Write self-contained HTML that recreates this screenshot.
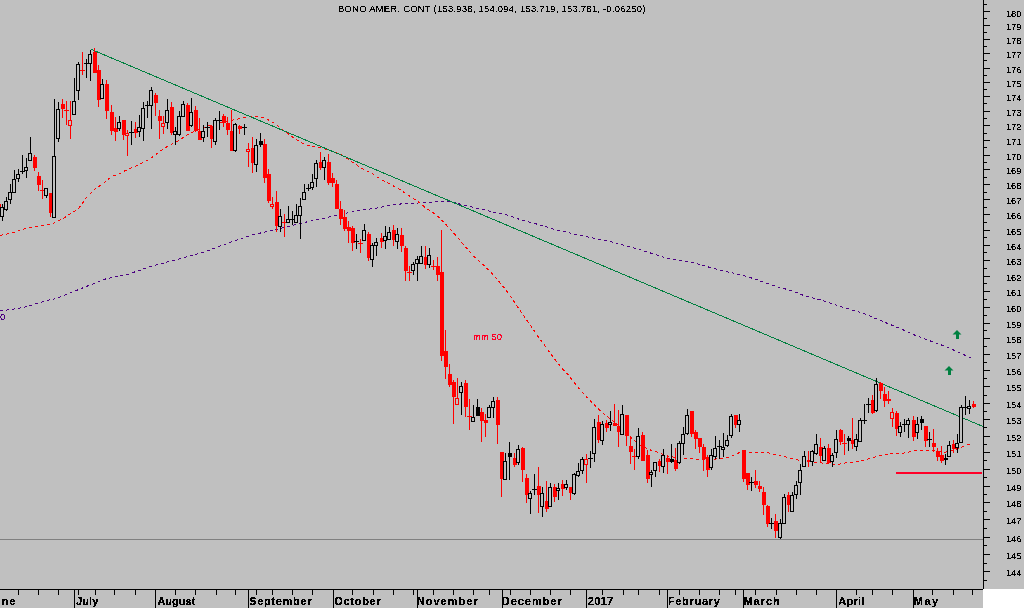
<!DOCTYPE html>
<html><head><meta charset="utf-8"><style>
html,body{margin:0;padding:0;width:1024px;height:608px;overflow:hidden;background:#c0c0c0;}
svg{display:block;}
text{font-family:"Liberation Sans",sans-serif;}
.yl{font-size:9.5px;text-anchor:end;fill:#000;}
.ml{font-size:11px;font-weight:bold;fill:#000;}
.mm{font-size:9.5px;fill:#ff0028;}
.pz{font-size:9.5px;fill:#4b0082;}
.tt{font-size:9.5px;letter-spacing:0.21px;fill:#000;}
</style></head><body>
<svg width="1024" height="608" viewBox="0 0 1024 608" shape-rendering="crispEdges">
<defs><filter id="crisp" x="0" y="0" width="100%" height="100%" color-interpolation-filters="sRGB"><feComponentTransfer><feFuncA type="discrete" tableValues="0 0 1 1 1"/></feComponentTransfer></filter><filter id="crisp2" x="0" y="0" width="100%" height="100%" color-interpolation-filters="sRGB"><feComponentTransfer><feFuncA type="discrete" tableValues="0 0 1 1 1"/></feComponentTransfer></filter><filter id="crisp3" x="0" y="0" width="100%" height="100%" color-interpolation-filters="sRGB"><feComponentTransfer><feFuncA type="discrete" tableValues="0 1 1"/></feComponentTransfer></filter></defs>
<rect x="0" y="0" width="1024" height="608" fill="#c0c0c0"/>
<rect x="0" y="539" width="983" height="1" fill="#808080"/>
<polyline points="0,311 12,309.4 22.8,307.6 36,303.8 47,300.5 55.8,298.7 81.2,288.5 106.6,278.6 126.9,274.6 152.3,266 177.7,259.3 203,252.5 228.4,243 253.8,234.5 273.9,230 302.6,222.8 322.6,218.7 335.8,215.4 347.3,212.9 362,210.1 378.5,207.8 390.4,205 401.6,203.9 418,203 428,202.3 441.4,201.6 451.3,201.9 466.1,205.7 480.9,209 494,212.3 505,214.4 520,219.5 538.7,224.6 555,229.5 583,236 610,241.5 638,249 666,258 693,262.7 721,270.5 742.4,275.1 754.6,279 766.9,283.2 779,287.3 791.3,290.5 803.5,295.4 815.7,298.6 827.9,302.2 840,306.4 852.3,310 864.5,313.7 876.7,319 889,324 901,328.8 913.3,334.5 925.5,339.3 937.8,343.5 950,348.4 962.2,354 973.2,358.9" fill="none" stroke="#4b0082" stroke-width="1" stroke-dasharray="3 3"/>
<polyline points="0,235.4 5,234.5 11.5,232.9 17.3,231.2 23.8,229.2 29.2,227.5 35.4,226.3 41.1,225.9 47.7,224.3 53.5,223.4 59.2,220.6 65,217.3 70.7,213.6 78.3,208.8 86.7,197.3 95.1,189 103.5,183.2 111.8,176.5 120.2,173.5 123.3,171.5 136.4,165.8 149.6,159.2 159.5,151.8 169.3,145.2 179.2,140.3 189,133.7 200.6,128.8 212,124.7 225.3,121.4 235,119.7 245,117.3 254.9,116.1 264.7,118 273.3,122.5 281.5,129 293,137.3 302.9,143.8 312.8,146.6 322.6,148.3 332.5,151.3 342.4,155.4 352.2,162 362,168.5 372,173.5 381.8,180 391.7,185 401.6,190.7 411.4,197.3 421.3,203.9 425,207.3 434.9,213.9 441.4,219.7 449.7,228.7 457.9,237.8 466.1,247.6 474.3,256.7 482.6,264.1 491.6,273 501.5,284.6 506.4,290.6 522.9,314.4 539.3,338.3 555.8,360.5 562.4,368.7 567.9,374.5 577.1,386.3 582.4,392.2 588.3,398.8 593.6,404 598.8,409.3 604.7,414.6 610.7,419.2 621.8,428.4 632.4,439 639.2,444.6 648.7,449.4 657,452.1 667.9,456.3 681.6,458.3 695.2,459 708.9,459.7 722.6,458.3 729.4,457 736.3,454.2 740.4,452.1 751.5,452.3 767.6,452.7 776.4,455.2 786.6,457.1 793.9,459.3 801.2,460.7 815.9,462.2 830.5,464 837.8,464.4 845.2,463 855.4,462.2 861.3,460.7 870,458.6 878.8,455.6 889,454.2 896.4,453.1 903.3,453.2 910.3,451.8 916,450.4 927.2,450.4 935.6,451 945.5,452.2 952.5,450.4 962.4,446.9 971,443.4" fill="none" stroke="#ff0000" stroke-width="1" stroke-dasharray="3 3"/>
<line x1="91.5" y1="49.5" x2="983" y2="426.5" stroke="#008040" stroke-width="1"/>
<rect x="-2" y="203" width="1" height="10" fill="#ff0000"/><rect x="-3" y="204" width="4" height="5" fill="#ff0000"/><rect x="2" y="204" width="1" height="17" fill="#000000"/><rect x="0" y="207" width="4" height="10" fill="#000000"/><rect x="1" y="208" width="2" height="8" fill="#c0c0c0"/><rect x="6" y="197" width="1" height="14" fill="#000000"/><rect x="4" y="201" width="4" height="9" fill="#000000"/><rect x="5" y="202" width="2" height="7" fill="#c0c0c0"/><rect x="10" y="184" width="1" height="20" fill="#000000"/><rect x="8" y="192" width="4" height="8" fill="#000000"/><rect x="9" y="193" width="2" height="6" fill="#c0c0c0"/><rect x="14" y="170" width="1" height="23" fill="#000000"/><rect x="12" y="179" width="4" height="14" fill="#000000"/><rect x="13" y="180" width="2" height="12" fill="#c0c0c0"/><rect x="18" y="169" width="1" height="13" fill="#000000"/><rect x="16" y="174" width="4" height="5" fill="#000000"/><rect x="17" y="175" width="2" height="3" fill="#c0c0c0"/><rect x="22" y="155" width="1" height="19" fill="#000000"/><rect x="20" y="171" width="5" height="1" fill="#000000"/><rect x="26" y="158" width="1" height="20" fill="#000000"/><rect x="24" y="167" width="4" height="4" fill="#000000"/><rect x="25" y="168" width="2" height="2" fill="#c0c0c0"/><rect x="30" y="137" width="1" height="24" fill="#000000"/><rect x="28" y="153" width="4" height="8" fill="#000000"/><rect x="29" y="154" width="2" height="6" fill="#c0c0c0"/><rect x="34" y="155" width="1" height="16" fill="#ff0000"/><rect x="33" y="157" width="4" height="11" fill="#ff0000"/><rect x="38" y="172" width="1" height="19" fill="#ff0000"/><rect x="37" y="176" width="4" height="9" fill="#ff0000"/><rect x="42" y="180" width="1" height="19" fill="#ff0000"/><rect x="40" y="190" width="5" height="1" fill="#ff0000"/><rect x="46" y="188" width="1" height="10" fill="#000000"/><rect x="44" y="188" width="4" height="8" fill="#000000"/><rect x="45" y="189" width="2" height="6" fill="#c0c0c0"/><rect x="50" y="193" width="1" height="24" fill="#ff0000"/><rect x="49" y="193" width="4" height="20" fill="#ff0000"/><rect x="54" y="99" width="1" height="119" fill="#000000"/><rect x="52" y="156" width="4" height="62" fill="#000000"/><rect x="53" y="157" width="2" height="60" fill="#c0c0c0"/><rect x="58" y="102" width="1" height="40" fill="#000000"/><rect x="56" y="109" width="4" height="30" fill="#000000"/><rect x="57" y="110" width="2" height="28" fill="#c0c0c0"/><rect x="62" y="99" width="1" height="19" fill="#ff0000"/><rect x="61" y="104" width="4" height="5" fill="#ff0000"/><rect x="66" y="101" width="1" height="24" fill="#ff0000"/><rect x="64" y="110" width="5" height="1" fill="#ff0000"/><rect x="70" y="101" width="1" height="38" fill="#ff0000"/><rect x="68" y="120" width="4" height="6" fill="#ff0000"/><rect x="69" y="121" width="2" height="4" fill="#c0c0c0"/><rect x="74" y="78" width="1" height="37" fill="#000000"/><rect x="72" y="101" width="4" height="14" fill="#000000"/><rect x="73" y="102" width="2" height="12" fill="#c0c0c0"/><rect x="78" y="62" width="1" height="38" fill="#000000"/><rect x="76" y="64" width="4" height="27" fill="#000000"/><rect x="77" y="65" width="2" height="25" fill="#c0c0c0"/><rect x="82" y="52" width="1" height="23" fill="#ff0000"/><rect x="80" y="70" width="5" height="1" fill="#ff0000"/><rect x="86" y="59" width="1" height="19" fill="#000000"/><rect x="84" y="63" width="5" height="1" fill="#000000"/><rect x="90" y="50" width="1" height="31" fill="#000000"/><rect x="88" y="54" width="4" height="10" fill="#000000"/><rect x="89" y="55" width="2" height="8" fill="#c0c0c0"/><rect x="94" y="48" width="1" height="25" fill="#ff0000"/><rect x="93" y="52" width="4" height="21" fill="#ff0000"/><rect x="98" y="65" width="1" height="42" fill="#ff0000"/><rect x="97" y="70" width="4" height="30" fill="#ff0000"/><rect x="102" y="79" width="1" height="20" fill="#000000"/><rect x="100" y="84" width="4" height="15" fill="#000000"/><rect x="101" y="85" width="2" height="13" fill="#c0c0c0"/><rect x="106" y="80" width="1" height="39" fill="#ff0000"/><rect x="105" y="84" width="4" height="27" fill="#ff0000"/><rect x="111" y="105" width="1" height="30" fill="#ff0000"/><rect x="110" y="112" width="4" height="19" fill="#ff0000"/><rect x="115" y="117" width="1" height="24" fill="#ff0000"/><rect x="114" y="128" width="4" height="4" fill="#ff0000"/><rect x="119" y="116" width="1" height="15" fill="#000000"/><rect x="117" y="122" width="4" height="7" fill="#000000"/><rect x="118" y="123" width="2" height="5" fill="#c0c0c0"/><rect x="123" y="120" width="1" height="20" fill="#ff0000"/><rect x="122" y="120" width="4" height="15" fill="#ff0000"/><rect x="127" y="130" width="1" height="26" fill="#ff0000"/><rect x="125" y="133" width="4" height="3" fill="#ff0000"/><rect x="126" y="134" width="2" height="1" fill="#c0c0c0"/><rect x="131" y="121" width="1" height="24" fill="#000000"/><rect x="129" y="132" width="5" height="1" fill="#000000"/><rect x="135" y="122" width="1" height="16" fill="#ff0000"/><rect x="134" y="129" width="4" height="4" fill="#ff0000"/><rect x="139" y="115" width="1" height="22" fill="#000000"/><rect x="137" y="127" width="4" height="5" fill="#000000"/><rect x="138" y="128" width="2" height="3" fill="#c0c0c0"/><rect x="143" y="102" width="1" height="39" fill="#000000"/><rect x="141" y="108" width="4" height="21" fill="#000000"/><rect x="142" y="109" width="2" height="19" fill="#c0c0c0"/><rect x="147" y="101" width="1" height="17" fill="#000000"/><rect x="145" y="105" width="5" height="1" fill="#000000"/><rect x="151" y="87" width="1" height="42" fill="#000000"/><rect x="149" y="90" width="4" height="16" fill="#000000"/><rect x="150" y="91" width="2" height="14" fill="#c0c0c0"/><rect x="155" y="93" width="1" height="23" fill="#ff0000"/><rect x="154" y="95" width="4" height="8" fill="#ff0000"/><rect x="159" y="110" width="1" height="29" fill="#ff0000"/><rect x="158" y="116" width="4" height="5" fill="#ff0000"/><rect x="163" y="116" width="1" height="18" fill="#ff0000"/><rect x="161" y="123" width="4" height="4" fill="#ff0000"/><rect x="162" y="124" width="2" height="2" fill="#c0c0c0"/><rect x="167" y="99" width="1" height="30" fill="#000000"/><rect x="165" y="110" width="4" height="13" fill="#000000"/><rect x="166" y="111" width="2" height="11" fill="#c0c0c0"/><rect x="171" y="102" width="1" height="33" fill="#ff0000"/><rect x="170" y="107" width="4" height="26" fill="#ff0000"/><rect x="175" y="127" width="1" height="18" fill="#000000"/><rect x="173" y="131" width="4" height="4" fill="#000000"/><rect x="174" y="132" width="2" height="2" fill="#c0c0c0"/><rect x="179" y="111" width="1" height="25" fill="#000000"/><rect x="177" y="116" width="4" height="19" fill="#000000"/><rect x="178" y="117" width="2" height="17" fill="#c0c0c0"/><rect x="183" y="101" width="1" height="16" fill="#000000"/><rect x="181" y="104" width="4" height="13" fill="#000000"/><rect x="182" y="105" width="2" height="11" fill="#c0c0c0"/><rect x="187" y="103" width="1" height="28" fill="#ff0000"/><rect x="186" y="105" width="4" height="26" fill="#ff0000"/><rect x="191" y="98" width="1" height="29" fill="#000000"/><rect x="189" y="112" width="4" height="14" fill="#000000"/><rect x="190" y="113" width="2" height="12" fill="#c0c0c0"/><rect x="195" y="106" width="1" height="26" fill="#ff0000"/><rect x="194" y="110" width="4" height="21" fill="#ff0000"/><rect x="199" y="118" width="1" height="22" fill="#ff0000"/><rect x="198" y="131" width="4" height="9" fill="#ff0000"/><rect x="203" y="125" width="1" height="17" fill="#000000"/><rect x="201" y="131" width="4" height="7" fill="#000000"/><rect x="202" y="132" width="2" height="5" fill="#c0c0c0"/><rect x="207" y="122" width="1" height="15" fill="#000000"/><rect x="205" y="127" width="5" height="1" fill="#000000"/><rect x="211" y="125" width="1" height="23" fill="#ff0000"/><rect x="210" y="126" width="4" height="13" fill="#ff0000"/><rect x="215" y="118" width="1" height="27" fill="#000000"/><rect x="213" y="120" width="4" height="22" fill="#000000"/><rect x="214" y="121" width="2" height="20" fill="#c0c0c0"/><rect x="219" y="111" width="1" height="19" fill="#000000"/><rect x="217" y="120" width="5" height="1" fill="#000000"/><rect x="223" y="114" width="1" height="13" fill="#ff0000"/><rect x="222" y="116" width="4" height="7" fill="#ff0000"/><rect x="227" y="117" width="1" height="18" fill="#ff0000"/><rect x="226" y="123" width="4" height="7" fill="#ff0000"/><rect x="231" y="110" width="1" height="41" fill="#ff0000"/><rect x="230" y="131" width="4" height="20" fill="#ff0000"/><rect x="235" y="123" width="1" height="29" fill="#000000"/><rect x="233" y="124" width="4" height="27" fill="#000000"/><rect x="234" y="125" width="2" height="25" fill="#c0c0c0"/><rect x="239" y="125" width="1" height="9" fill="#ff0000"/><rect x="238" y="126" width="4" height="3" fill="#ff0000"/><rect x="244" y="124" width="1" height="11" fill="#000000"/><rect x="242" y="127" width="5" height="1" fill="#000000"/><rect x="248" y="143" width="1" height="24" fill="#ff0000"/><rect x="246" y="149" width="4" height="3" fill="#ff0000"/><rect x="247" y="150" width="2" height="1" fill="#c0c0c0"/><rect x="252" y="137" width="1" height="36" fill="#ff0000"/><rect x="251" y="148" width="4" height="15" fill="#ff0000"/><rect x="256" y="139" width="1" height="33" fill="#000000"/><rect x="254" y="145" width="4" height="20" fill="#000000"/><rect x="255" y="146" width="2" height="18" fill="#c0c0c0"/><rect x="260" y="133" width="1" height="14" fill="#000000"/><rect x="259" y="141" width="4" height="4" fill="#000000"/><rect x="264" y="139" width="1" height="44" fill="#ff0000"/><rect x="263" y="144" width="4" height="34" fill="#ff0000"/><rect x="268" y="169" width="1" height="34" fill="#ff0000"/><rect x="267" y="174" width="4" height="27" fill="#ff0000"/><rect x="272" y="197" width="1" height="12" fill="#ff0000"/><rect x="270" y="204" width="4" height="3" fill="#ff0000"/><rect x="271" y="205" width="2" height="1" fill="#c0c0c0"/><rect x="276" y="191" width="1" height="41" fill="#ff0000"/><rect x="275" y="202" width="4" height="24" fill="#ff0000"/><rect x="280" y="209" width="1" height="23" fill="#000000"/><rect x="278" y="216" width="4" height="11" fill="#000000"/><rect x="279" y="217" width="2" height="9" fill="#c0c0c0"/><rect x="284" y="214" width="1" height="23" fill="#ff0000"/><rect x="282" y="222" width="5" height="1" fill="#ff0000"/><rect x="288" y="206" width="1" height="17" fill="#000000"/><rect x="286" y="219" width="4" height="4" fill="#000000"/><rect x="287" y="220" width="2" height="2" fill="#c0c0c0"/><rect x="292" y="211" width="1" height="14" fill="#000000"/><rect x="290" y="219" width="5" height="1" fill="#000000"/><rect x="296" y="204" width="1" height="19" fill="#000000"/><rect x="294" y="215" width="4" height="8" fill="#000000"/><rect x="295" y="216" width="2" height="6" fill="#c0c0c0"/><rect x="300" y="198" width="1" height="41" fill="#000000"/><rect x="298" y="206" width="4" height="10" fill="#000000"/><rect x="299" y="207" width="2" height="8" fill="#c0c0c0"/><rect x="304" y="184" width="1" height="16" fill="#000000"/><rect x="302" y="192" width="4" height="8" fill="#000000"/><rect x="303" y="193" width="2" height="6" fill="#c0c0c0"/><rect x="308" y="184" width="1" height="7" fill="#000000"/><rect x="306" y="188" width="5" height="1" fill="#000000"/><rect x="312" y="174" width="1" height="16" fill="#000000"/><rect x="310" y="182" width="4" height="6" fill="#000000"/><rect x="311" y="183" width="2" height="4" fill="#c0c0c0"/><rect x="316" y="160" width="1" height="27" fill="#000000"/><rect x="314" y="163" width="4" height="16" fill="#000000"/><rect x="315" y="164" width="2" height="14" fill="#c0c0c0"/><rect x="320" y="152" width="1" height="18" fill="#ff0000"/><rect x="319" y="162" width="4" height="6" fill="#ff0000"/><rect x="324" y="157" width="1" height="23" fill="#000000"/><rect x="322" y="160" width="4" height="8" fill="#000000"/><rect x="323" y="161" width="2" height="6" fill="#c0c0c0"/><rect x="328" y="154" width="1" height="31" fill="#ff0000"/><rect x="327" y="162" width="4" height="21" fill="#ff0000"/><rect x="332" y="173" width="1" height="14" fill="#ff0000"/><rect x="331" y="178" width="4" height="5" fill="#ff0000"/><rect x="336" y="180" width="1" height="29" fill="#ff0000"/><rect x="335" y="184" width="4" height="25" fill="#ff0000"/><rect x="340" y="201" width="1" height="24" fill="#ff0000"/><rect x="339" y="209" width="4" height="10" fill="#ff0000"/><rect x="344" y="210" width="1" height="21" fill="#ff0000"/><rect x="343" y="217" width="4" height="12" fill="#ff0000"/><rect x="348" y="221" width="1" height="22" fill="#ff0000"/><rect x="347" y="227" width="4" height="4" fill="#ff0000"/><rect x="352" y="226" width="1" height="25" fill="#ff0000"/><rect x="351" y="228" width="4" height="15" fill="#ff0000"/><rect x="356" y="234" width="1" height="15" fill="#000000"/><rect x="354" y="241" width="5" height="1" fill="#000000"/><rect x="360" y="239" width="1" height="14" fill="#ff0000"/><rect x="358" y="243" width="5" height="1" fill="#ff0000"/><rect x="364" y="224" width="1" height="17" fill="#000000"/><rect x="362" y="230" width="4" height="11" fill="#000000"/><rect x="363" y="231" width="2" height="9" fill="#c0c0c0"/><rect x="368" y="232" width="1" height="29" fill="#ff0000"/><rect x="367" y="234" width="4" height="24" fill="#ff0000"/><rect x="372" y="243" width="1" height="24" fill="#000000"/><rect x="370" y="245" width="4" height="15" fill="#000000"/><rect x="371" y="246" width="2" height="13" fill="#c0c0c0"/><rect x="376" y="238" width="1" height="18" fill="#000000"/><rect x="374" y="242" width="4" height="4" fill="#000000"/><rect x="375" y="243" width="2" height="2" fill="#c0c0c0"/><rect x="381" y="233" width="1" height="15" fill="#ff0000"/><rect x="380" y="238" width="4" height="4" fill="#ff0000"/><rect x="385" y="226" width="1" height="23" fill="#000000"/><rect x="383" y="236" width="4" height="5" fill="#000000"/><rect x="384" y="237" width="2" height="3" fill="#c0c0c0"/><rect x="389" y="227" width="1" height="13" fill="#000000"/><rect x="387" y="232" width="4" height="8" fill="#000000"/><rect x="388" y="233" width="2" height="6" fill="#c0c0c0"/><rect x="393" y="225" width="1" height="21" fill="#ff0000"/><rect x="392" y="230" width="4" height="10" fill="#ff0000"/><rect x="397" y="228" width="1" height="21" fill="#000000"/><rect x="395" y="234" width="4" height="8" fill="#000000"/><rect x="396" y="235" width="2" height="6" fill="#c0c0c0"/><rect x="401" y="228" width="1" height="24" fill="#ff0000"/><rect x="400" y="235" width="4" height="11" fill="#ff0000"/><rect x="405" y="246" width="1" height="35" fill="#ff0000"/><rect x="404" y="248" width="4" height="23" fill="#ff0000"/><rect x="409" y="266" width="1" height="15" fill="#ff0000"/><rect x="407" y="272" width="5" height="1" fill="#ff0000"/><rect x="413" y="262" width="1" height="13" fill="#000000"/><rect x="411" y="264" width="4" height="7" fill="#000000"/><rect x="412" y="265" width="2" height="5" fill="#c0c0c0"/><rect x="417" y="256" width="1" height="25" fill="#000000"/><rect x="415" y="259" width="4" height="5" fill="#000000"/><rect x="416" y="260" width="2" height="3" fill="#c0c0c0"/><rect x="421" y="246" width="1" height="18" fill="#000000"/><rect x="419" y="256" width="4" height="8" fill="#000000"/><rect x="420" y="257" width="2" height="6" fill="#c0c0c0"/><rect x="425" y="246" width="1" height="23" fill="#ff0000"/><rect x="424" y="257" width="4" height="8" fill="#ff0000"/><rect x="429" y="248" width="1" height="20" fill="#000000"/><rect x="427" y="255" width="4" height="10" fill="#000000"/><rect x="428" y="256" width="2" height="8" fill="#c0c0c0"/><rect x="433" y="260" width="1" height="10" fill="#ff0000"/><rect x="431" y="266" width="5" height="1" fill="#ff0000"/><rect x="437" y="257" width="1" height="24" fill="#ff0000"/><rect x="436" y="266" width="4" height="9" fill="#ff0000"/><rect x="441" y="230" width="1" height="131" fill="#ff0000"/><rect x="440" y="272" width="4" height="84" fill="#ff0000"/><rect x="445" y="330" width="1" height="49" fill="#ff0000"/><rect x="444" y="351" width="4" height="16" fill="#ff0000"/><rect x="449" y="364" width="1" height="23" fill="#ff0000"/><rect x="448" y="374" width="4" height="11" fill="#ff0000"/><rect x="453" y="380" width="1" height="44" fill="#ff0000"/><rect x="452" y="382" width="4" height="15" fill="#ff0000"/><rect x="457" y="378" width="1" height="27" fill="#ff0000"/><rect x="455" y="398" width="4" height="7" fill="#ff0000"/><rect x="456" y="399" width="2" height="5" fill="#c0c0c0"/><rect x="461" y="382" width="1" height="33" fill="#000000"/><rect x="459" y="386" width="4" height="7" fill="#000000"/><rect x="460" y="387" width="2" height="5" fill="#c0c0c0"/><rect x="465" y="380" width="1" height="37" fill="#ff0000"/><rect x="464" y="383" width="4" height="24" fill="#ff0000"/><rect x="469" y="399" width="1" height="31" fill="#ff0000"/><rect x="467" y="416" width="5" height="1" fill="#ff0000"/><rect x="473" y="405" width="1" height="17" fill="#000000"/><rect x="471" y="417" width="4" height="5" fill="#000000"/><rect x="472" y="418" width="2" height="3" fill="#c0c0c0"/><rect x="477" y="399" width="1" height="17" fill="#000000"/><rect x="476" y="407" width="4" height="9" fill="#000000"/><rect x="481" y="408" width="1" height="34" fill="#ff0000"/><rect x="480" y="412" width="4" height="9" fill="#ff0000"/><rect x="485" y="414" width="1" height="23" fill="#ff0000"/><rect x="484" y="420" width="4" height="3" fill="#ff0000"/><rect x="489" y="405" width="1" height="13" fill="#000000"/><rect x="487" y="407" width="4" height="11" fill="#000000"/><rect x="488" y="408" width="2" height="9" fill="#c0c0c0"/><rect x="493" y="397" width="1" height="21" fill="#000000"/><rect x="491" y="401" width="4" height="7" fill="#000000"/><rect x="492" y="402" width="2" height="5" fill="#c0c0c0"/><rect x="497" y="397" width="1" height="47" fill="#ff0000"/><rect x="496" y="400" width="4" height="25" fill="#ff0000"/><rect x="501" y="452" width="1" height="45" fill="#ff0000"/><rect x="500" y="452" width="4" height="27" fill="#ff0000"/><rect x="505" y="453" width="1" height="27" fill="#000000"/><rect x="503" y="461" width="4" height="19" fill="#000000"/><rect x="504" y="462" width="2" height="17" fill="#c0c0c0"/><rect x="509" y="442" width="1" height="38" fill="#000000"/><rect x="508" y="453" width="4" height="4" fill="#000000"/><rect x="514" y="453" width="1" height="14" fill="#ff0000"/><rect x="513" y="458" width="4" height="7" fill="#ff0000"/><rect x="518" y="445" width="1" height="20" fill="#000000"/><rect x="516" y="449" width="4" height="14" fill="#000000"/><rect x="517" y="450" width="2" height="12" fill="#c0c0c0"/><rect x="522" y="447" width="1" height="35" fill="#ff0000"/><rect x="521" y="448" width="4" height="22" fill="#ff0000"/><rect x="526" y="474" width="1" height="29" fill="#ff0000"/><rect x="525" y="478" width="4" height="17" fill="#ff0000"/><rect x="530" y="491" width="1" height="23" fill="#000000"/><rect x="528" y="493" width="4" height="6" fill="#000000"/><rect x="529" y="494" width="2" height="4" fill="#c0c0c0"/><rect x="534" y="474" width="1" height="21" fill="#000000"/><rect x="532" y="489" width="5" height="1" fill="#000000"/><rect x="538" y="467" width="1" height="46" fill="#ff0000"/><rect x="537" y="486" width="4" height="9" fill="#ff0000"/><rect x="542" y="487" width="1" height="30" fill="#000000"/><rect x="540" y="493" width="4" height="14" fill="#000000"/><rect x="541" y="494" width="2" height="12" fill="#c0c0c0"/><rect x="546" y="481" width="1" height="31" fill="#ff0000"/><rect x="545" y="501" width="4" height="8" fill="#ff0000"/><rect x="550" y="483" width="1" height="24" fill="#000000"/><rect x="548" y="487" width="4" height="20" fill="#000000"/><rect x="549" y="488" width="2" height="18" fill="#c0c0c0"/><rect x="554" y="484" width="1" height="18" fill="#ff0000"/><rect x="553" y="487" width="4" height="10" fill="#ff0000"/><rect x="558" y="483" width="1" height="17" fill="#000000"/><rect x="556" y="488" width="4" height="3" fill="#000000"/><rect x="557" y="489" width="2" height="1" fill="#c0c0c0"/><rect x="562" y="480" width="1" height="16" fill="#ff0000"/><rect x="561" y="484" width="4" height="5" fill="#ff0000"/><rect x="566" y="480" width="1" height="10" fill="#000000"/><rect x="564" y="484" width="4" height="4" fill="#000000"/><rect x="565" y="485" width="2" height="2" fill="#c0c0c0"/><rect x="570" y="487" width="1" height="13" fill="#ff0000"/><rect x="569" y="487" width="4" height="6" fill="#ff0000"/><rect x="574" y="473" width="1" height="22" fill="#000000"/><rect x="572" y="474" width="4" height="20" fill="#000000"/><rect x="573" y="475" width="2" height="18" fill="#c0c0c0"/><rect x="578" y="463" width="1" height="14" fill="#000000"/><rect x="576" y="471" width="4" height="5" fill="#000000"/><rect x="577" y="472" width="2" height="3" fill="#c0c0c0"/><rect x="582" y="457" width="1" height="17" fill="#000000"/><rect x="580" y="459" width="4" height="12" fill="#000000"/><rect x="581" y="460" width="2" height="10" fill="#c0c0c0"/><rect x="586" y="454" width="1" height="29" fill="#ff0000"/><rect x="584" y="459" width="4" height="6" fill="#ff0000"/><rect x="585" y="460" width="2" height="4" fill="#c0c0c0"/><rect x="590" y="451" width="1" height="17" fill="#000000"/><rect x="588" y="458" width="5" height="1" fill="#000000"/><rect x="594" y="419" width="1" height="43" fill="#000000"/><rect x="592" y="427" width="4" height="27" fill="#000000"/><rect x="593" y="428" width="2" height="25" fill="#c0c0c0"/><rect x="598" y="415" width="1" height="28" fill="#ff0000"/><rect x="597" y="422" width="4" height="18" fill="#ff0000"/><rect x="602" y="421" width="1" height="24" fill="#000000"/><rect x="600" y="424" width="4" height="17" fill="#000000"/><rect x="601" y="425" width="2" height="15" fill="#c0c0c0"/><rect x="606" y="420" width="1" height="12" fill="#ff0000"/><rect x="605" y="423" width="4" height="5" fill="#ff0000"/><rect x="610" y="411" width="1" height="20" fill="#000000"/><rect x="608" y="422" width="4" height="3" fill="#000000"/><rect x="609" y="423" width="2" height="1" fill="#c0c0c0"/><rect x="614" y="404" width="1" height="22" fill="#ff0000"/><rect x="613" y="423" width="4" height="3" fill="#ff0000"/><rect x="618" y="410" width="1" height="37" fill="#ff0000"/><rect x="617" y="426" width="4" height="6" fill="#ff0000"/><rect x="622" y="405" width="1" height="30" fill="#000000"/><rect x="620" y="414" width="4" height="21" fill="#000000"/><rect x="621" y="415" width="2" height="19" fill="#c0c0c0"/><rect x="626" y="415" width="1" height="31" fill="#ff0000"/><rect x="625" y="415" width="4" height="21" fill="#ff0000"/><rect x="630" y="438" width="1" height="26" fill="#ff0000"/><rect x="629" y="446" width="4" height="6" fill="#ff0000"/><rect x="634" y="449" width="1" height="21" fill="#ff0000"/><rect x="632" y="456" width="5" height="1" fill="#ff0000"/><rect x="638" y="428" width="1" height="31" fill="#000000"/><rect x="636" y="436" width="4" height="21" fill="#000000"/><rect x="637" y="437" width="2" height="19" fill="#c0c0c0"/><rect x="642" y="432" width="1" height="29" fill="#ff0000"/><rect x="641" y="435" width="4" height="26" fill="#ff0000"/><rect x="647" y="450" width="1" height="33" fill="#ff0000"/><rect x="646" y="455" width="4" height="24" fill="#ff0000"/><rect x="651" y="470" width="1" height="17" fill="#000000"/><rect x="649" y="472" width="4" height="3" fill="#000000"/><rect x="650" y="473" width="2" height="1" fill="#c0c0c0"/><rect x="655" y="462" width="1" height="15" fill="#000000"/><rect x="653" y="462" width="4" height="9" fill="#000000"/><rect x="654" y="463" width="2" height="7" fill="#c0c0c0"/><rect x="659" y="459" width="1" height="13" fill="#ff0000"/><rect x="658" y="461" width="4" height="5" fill="#ff0000"/><rect x="663" y="449" width="1" height="24" fill="#000000"/><rect x="661" y="455" width="4" height="12" fill="#000000"/><rect x="662" y="456" width="2" height="10" fill="#c0c0c0"/><rect x="667" y="455" width="1" height="19" fill="#ff0000"/><rect x="666" y="458" width="4" height="4" fill="#ff0000"/><rect x="671" y="444" width="1" height="19" fill="#000000"/><rect x="670" y="459" width="4" height="3" fill="#000000"/><rect x="675" y="448" width="1" height="23" fill="#ff0000"/><rect x="674" y="460" width="4" height="9" fill="#ff0000"/><rect x="679" y="441" width="1" height="23" fill="#000000"/><rect x="677" y="443" width="4" height="20" fill="#000000"/><rect x="678" y="444" width="2" height="18" fill="#c0c0c0"/><rect x="683" y="427" width="1" height="28" fill="#000000"/><rect x="681" y="434" width="4" height="10" fill="#000000"/><rect x="682" y="435" width="2" height="8" fill="#c0c0c0"/><rect x="687" y="409" width="1" height="26" fill="#000000"/><rect x="685" y="415" width="4" height="19" fill="#000000"/><rect x="686" y="416" width="2" height="17" fill="#c0c0c0"/><rect x="691" y="411" width="1" height="26" fill="#ff0000"/><rect x="690" y="411" width="4" height="23" fill="#ff0000"/><rect x="695" y="430" width="1" height="19" fill="#ff0000"/><rect x="694" y="432" width="4" height="7" fill="#ff0000"/><rect x="699" y="438" width="1" height="15" fill="#ff0000"/><rect x="698" y="438" width="4" height="9" fill="#ff0000"/><rect x="703" y="444" width="1" height="27" fill="#ff0000"/><rect x="702" y="447" width="4" height="12" fill="#ff0000"/><rect x="707" y="455" width="1" height="22" fill="#ff0000"/><rect x="706" y="457" width="4" height="13" fill="#ff0000"/><rect x="711" y="449" width="1" height="21" fill="#000000"/><rect x="709" y="455" width="4" height="13" fill="#000000"/><rect x="710" y="456" width="2" height="11" fill="#c0c0c0"/><rect x="715" y="436" width="1" height="23" fill="#000000"/><rect x="713" y="448" width="4" height="9" fill="#000000"/><rect x="714" y="449" width="2" height="7" fill="#c0c0c0"/><rect x="719" y="440" width="1" height="19" fill="#000000"/><rect x="717" y="446" width="5" height="1" fill="#000000"/><rect x="723" y="433" width="1" height="24" fill="#000000"/><rect x="721" y="447" width="4" height="3" fill="#000000"/><rect x="722" y="448" width="2" height="1" fill="#c0c0c0"/><rect x="727" y="435" width="1" height="12" fill="#000000"/><rect x="725" y="440" width="4" height="6" fill="#000000"/><rect x="726" y="441" width="2" height="4" fill="#c0c0c0"/><rect x="731" y="414" width="1" height="24" fill="#000000"/><rect x="729" y="416" width="4" height="20" fill="#000000"/><rect x="730" y="417" width="2" height="18" fill="#c0c0c0"/><rect x="735" y="415" width="1" height="13" fill="#ff0000"/><rect x="734" y="415" width="4" height="10" fill="#ff0000"/><rect x="739" y="414" width="1" height="18" fill="#000000"/><rect x="737" y="420" width="4" height="5" fill="#000000"/><rect x="738" y="421" width="2" height="3" fill="#c0c0c0"/><rect x="743" y="450" width="1" height="32" fill="#ff0000"/><rect x="742" y="450" width="4" height="29" fill="#ff0000"/><rect x="747" y="473" width="1" height="17" fill="#ff0000"/><rect x="746" y="473" width="4" height="12" fill="#ff0000"/><rect x="751" y="477" width="1" height="14" fill="#000000"/><rect x="749" y="482" width="5" height="1" fill="#000000"/><rect x="755" y="470" width="1" height="18" fill="#ff0000"/><rect x="754" y="481" width="4" height="4" fill="#ff0000"/><rect x="759" y="481" width="1" height="11" fill="#ff0000"/><rect x="758" y="486" width="4" height="3" fill="#ff0000"/><rect x="763" y="487" width="1" height="28" fill="#ff0000"/><rect x="762" y="492" width="4" height="13" fill="#ff0000"/><rect x="767" y="505" width="1" height="22" fill="#ff0000"/><rect x="766" y="506" width="4" height="18" fill="#ff0000"/><rect x="771" y="518" width="1" height="11" fill="#000000"/><rect x="769" y="523" width="5" height="1" fill="#000000"/><rect x="775" y="514" width="1" height="24" fill="#ff0000"/><rect x="774" y="521" width="4" height="10" fill="#ff0000"/><rect x="780" y="519" width="1" height="20" fill="#000000"/><rect x="778" y="523" width="4" height="15" fill="#000000"/><rect x="779" y="524" width="2" height="13" fill="#c0c0c0"/><rect x="784" y="494" width="1" height="30" fill="#000000"/><rect x="782" y="497" width="4" height="27" fill="#000000"/><rect x="783" y="498" width="2" height="25" fill="#c0c0c0"/><rect x="788" y="492" width="1" height="20" fill="#ff0000"/><rect x="787" y="495" width="4" height="10" fill="#ff0000"/><rect x="792" y="492" width="1" height="20" fill="#000000"/><rect x="790" y="495" width="4" height="17" fill="#000000"/><rect x="791" y="496" width="2" height="15" fill="#c0c0c0"/><rect x="796" y="481" width="1" height="18" fill="#000000"/><rect x="794" y="485" width="4" height="10" fill="#000000"/><rect x="795" y="486" width="2" height="8" fill="#c0c0c0"/><rect x="800" y="464" width="1" height="31" fill="#000000"/><rect x="798" y="470" width="4" height="13" fill="#000000"/><rect x="799" y="471" width="2" height="11" fill="#c0c0c0"/><rect x="804" y="451" width="1" height="16" fill="#000000"/><rect x="802" y="456" width="4" height="11" fill="#000000"/><rect x="803" y="457" width="2" height="9" fill="#c0c0c0"/><rect x="808" y="451" width="1" height="16" fill="#ff0000"/><rect x="807" y="460" width="4" height="2" fill="#ff0000"/><rect x="812" y="450" width="1" height="16" fill="#000000"/><rect x="810" y="451" width="4" height="11" fill="#000000"/><rect x="811" y="452" width="2" height="9" fill="#c0c0c0"/><rect x="816" y="434" width="1" height="21" fill="#000000"/><rect x="814" y="444" width="4" height="10" fill="#000000"/><rect x="815" y="445" width="2" height="8" fill="#c0c0c0"/><rect x="820" y="438" width="1" height="25" fill="#ff0000"/><rect x="819" y="447" width="4" height="9" fill="#ff0000"/><rect x="824" y="446" width="1" height="15" fill="#000000"/><rect x="822" y="448" width="4" height="13" fill="#000000"/><rect x="823" y="449" width="2" height="11" fill="#c0c0c0"/><rect x="828" y="444" width="1" height="19" fill="#ff0000"/><rect x="827" y="448" width="4" height="15" fill="#ff0000"/><rect x="832" y="453" width="1" height="14" fill="#000000"/><rect x="830" y="455" width="4" height="7" fill="#000000"/><rect x="831" y="456" width="2" height="5" fill="#c0c0c0"/><rect x="836" y="430" width="1" height="28" fill="#000000"/><rect x="834" y="439" width="4" height="14" fill="#000000"/><rect x="835" y="440" width="2" height="12" fill="#c0c0c0"/><rect x="840" y="429" width="1" height="16" fill="#ff0000"/><rect x="839" y="430" width="4" height="12" fill="#ff0000"/><rect x="844" y="434" width="1" height="21" fill="#ff0000"/><rect x="842" y="443" width="5" height="1" fill="#ff0000"/><rect x="848" y="436" width="1" height="15" fill="#000000"/><rect x="847" y="438" width="4" height="3" fill="#000000"/><rect x="852" y="418" width="1" height="31" fill="#ff0000"/><rect x="851" y="440" width="4" height="4" fill="#ff0000"/><rect x="856" y="434" width="1" height="17" fill="#000000"/><rect x="854" y="439" width="4" height="8" fill="#000000"/><rect x="855" y="440" width="2" height="6" fill="#c0c0c0"/><rect x="860" y="418" width="1" height="24" fill="#000000"/><rect x="858" y="420" width="4" height="22" fill="#000000"/><rect x="859" y="421" width="2" height="20" fill="#c0c0c0"/><rect x="864" y="404" width="1" height="20" fill="#000000"/><rect x="862" y="420" width="5" height="1" fill="#000000"/><rect x="868" y="398" width="1" height="15" fill="#000000"/><rect x="866" y="404" width="5" height="1" fill="#000000"/><rect x="872" y="395" width="1" height="19" fill="#ff0000"/><rect x="871" y="400" width="4" height="13" fill="#ff0000"/><rect x="876" y="378" width="1" height="34" fill="#000000"/><rect x="874" y="384" width="4" height="27" fill="#000000"/><rect x="875" y="385" width="2" height="25" fill="#c0c0c0"/><rect x="880" y="382" width="1" height="17" fill="#ff0000"/><rect x="879" y="383" width="4" height="8" fill="#ff0000"/><rect x="884" y="387" width="1" height="20" fill="#ff0000"/><rect x="883" y="394" width="4" height="7" fill="#ff0000"/><rect x="888" y="391" width="1" height="13" fill="#ff0000"/><rect x="887" y="399" width="4" height="2" fill="#ff0000"/><rect x="892" y="408" width="1" height="19" fill="#ff0000"/><rect x="890" y="412" width="4" height="7" fill="#ff0000"/><rect x="891" y="413" width="2" height="5" fill="#c0c0c0"/><rect x="896" y="411" width="1" height="25" fill="#ff0000"/><rect x="895" y="413" width="4" height="16" fill="#ff0000"/><rect x="900" y="422" width="1" height="15" fill="#000000"/><rect x="898" y="426" width="4" height="7" fill="#000000"/><rect x="899" y="427" width="2" height="5" fill="#c0c0c0"/><rect x="904" y="419" width="1" height="13" fill="#000000"/><rect x="902" y="424" width="5" height="1" fill="#000000"/><rect x="908" y="418" width="1" height="20" fill="#000000"/><rect x="906" y="420" width="4" height="5" fill="#000000"/><rect x="907" y="421" width="2" height="3" fill="#c0c0c0"/><rect x="913" y="416" width="1" height="25" fill="#ff0000"/><rect x="912" y="420" width="4" height="17" fill="#ff0000"/><rect x="917" y="417" width="1" height="22" fill="#000000"/><rect x="915" y="424" width="4" height="9" fill="#000000"/><rect x="916" y="425" width="2" height="7" fill="#c0c0c0"/><rect x="921" y="416" width="1" height="14" fill="#000000"/><rect x="920" y="419" width="4" height="4" fill="#000000"/><rect x="925" y="426" width="1" height="21" fill="#ff0000"/><rect x="924" y="426" width="4" height="15" fill="#ff0000"/><rect x="929" y="432" width="1" height="15" fill="#000000"/><rect x="927" y="439" width="5" height="1" fill="#000000"/><rect x="933" y="429" width="1" height="23" fill="#ff0000"/><rect x="932" y="443" width="4" height="4" fill="#ff0000"/><rect x="937" y="448" width="1" height="13" fill="#ff0000"/><rect x="936" y="451" width="4" height="6" fill="#ff0000"/><rect x="941" y="446" width="1" height="17" fill="#ff0000"/><rect x="940" y="455" width="4" height="6" fill="#ff0000"/><rect x="945" y="454" width="1" height="11" fill="#000000"/><rect x="944" y="458" width="4" height="2" fill="#000000"/><rect x="949" y="441" width="1" height="16" fill="#000000"/><rect x="947" y="445" width="4" height="12" fill="#000000"/><rect x="948" y="446" width="2" height="10" fill="#c0c0c0"/><rect x="953" y="440" width="1" height="13" fill="#ff0000"/><rect x="952" y="444" width="4" height="5" fill="#ff0000"/><rect x="957" y="434" width="1" height="19" fill="#000000"/><rect x="955" y="443" width="4" height="5" fill="#000000"/><rect x="956" y="444" width="2" height="3" fill="#c0c0c0"/><rect x="961" y="405" width="1" height="38" fill="#000000"/><rect x="959" y="407" width="4" height="36" fill="#000000"/><rect x="960" y="408" width="2" height="34" fill="#c0c0c0"/><rect x="965" y="396" width="1" height="19" fill="#000000"/><rect x="963" y="407" width="5" height="1" fill="#000000"/><rect x="969" y="400" width="1" height="14" fill="#000000"/><rect x="967" y="406" width="4" height="3" fill="#000000"/><rect x="968" y="407" width="2" height="1" fill="#c0c0c0"/><rect x="973" y="401" width="1" height="7" fill="#ff0000"/><rect x="972" y="404" width="4" height="3" fill="#ff0000"/>
<rect x="896" y="472" width="86" height="2" fill="#ff0028"/>
<polygon points="957,330 961.5,334.5 959,334.5 959,339 956,339 956,334.5 952.5,334.5" fill="#008040" shape-rendering="auto"/>
<polygon points="949,366 953.5,370.5 951,370.5 951,375 948,375 948,370.5 944.5,370.5" fill="#008040" shape-rendering="auto"/>
<rect x="983" y="0" width="1" height="589" fill="#000"/><rect x="0" y="589" width="983" height="1" fill="#000"/><rect x="983" y="589" width="41" height="19" fill="#ffffff"/><rect x="984" y="571" width="6" height="1" fill="#000"/><rect x="984" y="554" width="6" height="1" fill="#000"/><rect x="984" y="537" width="6" height="1" fill="#000"/><rect x="984" y="519" width="6" height="1" fill="#000"/><rect x="984" y="502" width="6" height="1" fill="#000"/><rect x="984" y="486" width="6" height="1" fill="#000"/><rect x="984" y="469" width="6" height="1" fill="#000"/><rect x="984" y="452" width="6" height="1" fill="#000"/><rect x="984" y="436" width="6" height="1" fill="#000"/><rect x="984" y="419" width="6" height="1" fill="#000"/><rect x="984" y="403" width="6" height="1" fill="#000"/><rect x="984" y="386" width="6" height="1" fill="#000"/><rect x="984" y="370" width="6" height="1" fill="#000"/><rect x="984" y="354" width="6" height="1" fill="#000"/><rect x="984" y="338" width="6" height="1" fill="#000"/><rect x="984" y="323" width="6" height="1" fill="#000"/><rect x="984" y="307" width="6" height="1" fill="#000"/><rect x="984" y="291" width="6" height="1" fill="#000"/><rect x="984" y="276" width="6" height="1" fill="#000"/><rect x="984" y="260" width="6" height="1" fill="#000"/><rect x="984" y="245" width="6" height="1" fill="#000"/><rect x="984" y="230" width="6" height="1" fill="#000"/><rect x="984" y="214" width="6" height="1" fill="#000"/><rect x="984" y="199" width="6" height="1" fill="#000"/><rect x="984" y="184" width="6" height="1" fill="#000"/><rect x="984" y="169" width="6" height="1" fill="#000"/><rect x="984" y="155" width="6" height="1" fill="#000"/><rect x="984" y="140" width="6" height="1" fill="#000"/><rect x="984" y="125" width="6" height="1" fill="#000"/><rect x="984" y="111" width="6" height="1" fill="#000"/><rect x="984" y="96" width="6" height="1" fill="#000"/><rect x="984" y="82" width="6" height="1" fill="#000"/><rect x="984" y="68" width="6" height="1" fill="#000"/><rect x="984" y="53" width="6" height="1" fill="#000"/><rect x="984" y="39" width="6" height="1" fill="#000"/><rect x="984" y="25" width="6" height="1" fill="#000"/><rect x="984" y="11" width="6" height="1" fill="#000"/><rect x="984" y="580" width="3" height="1" fill="#000"/><rect x="984" y="563" width="3" height="1" fill="#000"/><rect x="984" y="545" width="3" height="1" fill="#000"/><rect x="984" y="528" width="3" height="1" fill="#000"/><rect x="984" y="511" width="3" height="1" fill="#000"/><rect x="984" y="494" width="3" height="1" fill="#000"/><rect x="984" y="477" width="3" height="1" fill="#000"/><rect x="984" y="460" width="3" height="1" fill="#000"/><rect x="984" y="444" width="3" height="1" fill="#000"/><rect x="984" y="427" width="3" height="1" fill="#000"/><rect x="984" y="411" width="3" height="1" fill="#000"/><rect x="984" y="395" width="3" height="1" fill="#000"/><rect x="984" y="378" width="3" height="1" fill="#000"/><rect x="984" y="362" width="3" height="1" fill="#000"/><rect x="984" y="346" width="3" height="1" fill="#000"/><rect x="984" y="330" width="3" height="1" fill="#000"/><rect x="984" y="315" width="3" height="1" fill="#000"/><rect x="984" y="299" width="3" height="1" fill="#000"/><rect x="984" y="283" width="3" height="1" fill="#000"/><rect x="984" y="268" width="3" height="1" fill="#000"/><rect x="984" y="252" width="3" height="1" fill="#000"/><rect x="984" y="237" width="3" height="1" fill="#000"/><rect x="984" y="222" width="3" height="1" fill="#000"/><rect x="984" y="207" width="3" height="1" fill="#000"/><rect x="984" y="192" width="3" height="1" fill="#000"/><rect x="984" y="177" width="3" height="1" fill="#000"/><rect x="984" y="162" width="3" height="1" fill="#000"/><rect x="984" y="147" width="3" height="1" fill="#000"/><rect x="984" y="133" width="3" height="1" fill="#000"/><rect x="984" y="118" width="3" height="1" fill="#000"/><rect x="984" y="103" width="3" height="1" fill="#000"/><rect x="984" y="89" width="3" height="1" fill="#000"/><rect x="984" y="75" width="3" height="1" fill="#000"/><rect x="984" y="60" width="3" height="1" fill="#000"/><rect x="984" y="46" width="3" height="1" fill="#000"/><rect x="984" y="32" width="3" height="1" fill="#000"/><rect x="984" y="18" width="3" height="1" fill="#000"/><rect x="984" y="4" width="3" height="1" fill="#000"/><rect x="18" y="590" width="1" height="5" fill="#000"/><rect x="38" y="590" width="1" height="5" fill="#000"/><rect x="58" y="590" width="1" height="5" fill="#000"/><rect x="78" y="590" width="1" height="5" fill="#000"/><rect x="95" y="590" width="1" height="5" fill="#000"/><rect x="114" y="590" width="1" height="5" fill="#000"/><rect x="135" y="590" width="1" height="5" fill="#000"/><rect x="175" y="590" width="1" height="5" fill="#000"/><rect x="195" y="590" width="1" height="5" fill="#000"/><rect x="216" y="590" width="1" height="5" fill="#000"/><rect x="235" y="590" width="1" height="5" fill="#000"/><rect x="256" y="590" width="1" height="5" fill="#000"/><rect x="272" y="590" width="1" height="5" fill="#000"/><rect x="292" y="590" width="1" height="5" fill="#000"/><rect x="312" y="590" width="1" height="5" fill="#000"/><rect x="352" y="590" width="1" height="5" fill="#000"/><rect x="373" y="590" width="1" height="5" fill="#000"/><rect x="393" y="590" width="1" height="5" fill="#000"/><rect x="413" y="590" width="1" height="5" fill="#000"/><rect x="433" y="590" width="1" height="5" fill="#000"/><rect x="453" y="590" width="1" height="5" fill="#000"/><rect x="473" y="590" width="1" height="5" fill="#000"/><rect x="489" y="590" width="1" height="5" fill="#000"/><rect x="510" y="590" width="1" height="5" fill="#000"/><rect x="530" y="590" width="1" height="5" fill="#000"/><rect x="550" y="590" width="1" height="5" fill="#000"/><rect x="570" y="590" width="1" height="5" fill="#000"/><rect x="602" y="590" width="1" height="5" fill="#000"/><rect x="623" y="590" width="1" height="5" fill="#000"/><rect x="638" y="590" width="1" height="5" fill="#000"/><rect x="659" y="590" width="1" height="5" fill="#000"/><rect x="679" y="590" width="1" height="5" fill="#000"/><rect x="699" y="590" width="1" height="5" fill="#000"/><rect x="719" y="590" width="1" height="5" fill="#000"/><rect x="735" y="590" width="1" height="5" fill="#000"/><rect x="755" y="590" width="1" height="5" fill="#000"/><rect x="776" y="590" width="1" height="5" fill="#000"/><rect x="796" y="590" width="1" height="5" fill="#000"/><rect x="816" y="590" width="1" height="5" fill="#000"/><rect x="856" y="590" width="1" height="5" fill="#000"/><rect x="872" y="590" width="1" height="5" fill="#000"/><rect x="892" y="590" width="1" height="5" fill="#000"/><rect x="932" y="590" width="1" height="5" fill="#000"/><rect x="953" y="590" width="1" height="5" fill="#000"/><rect x="972" y="590" width="1" height="5" fill="#000"/><rect x="74" y="590" width="1" height="18" fill="#000"/><rect x="155" y="590" width="1" height="18" fill="#000"/><rect x="248" y="590" width="1" height="18" fill="#000"/><rect x="333" y="590" width="1" height="18" fill="#000"/><rect x="417" y="590" width="1" height="18" fill="#000"/><rect x="502" y="590" width="1" height="18" fill="#000"/><rect x="586" y="590" width="1" height="18" fill="#000"/><rect x="667" y="590" width="1" height="18" fill="#000"/><rect x="743" y="590" width="1" height="18" fill="#000"/><rect x="836" y="590" width="1" height="18" fill="#000"/><rect x="913" y="590" width="1" height="18" fill="#000"/>
<g filter="url(#crisp)">
<text x="473" y="340" class="mm">mm 50</text>
<text x="0" y="320" class="pz">0</text>
<text x="338" y="12" class="tt">BONO AMER. CONT (153.938, 154.094, 153.719, 153.781, -0.06250)</text>
</g>
<g filter="url(#crisp2)"><text x="1021.5" y="576" class="yl">144</text><text x="1021.5" y="559" class="yl">145</text><text x="1021.5" y="542" class="yl">146</text><text x="1021.5" y="524" class="yl">147</text><text x="1021.5" y="507" class="yl">148</text><text x="1021.5" y="491" class="yl">149</text><text x="1021.5" y="474" class="yl">150</text><text x="1021.5" y="457" class="yl">151</text><text x="1021.5" y="441" class="yl">152</text><text x="1021.5" y="424" class="yl">153</text><text x="1021.5" y="408" class="yl">154</text><text x="1021.5" y="391" class="yl">155</text><text x="1021.5" y="375" class="yl">156</text><text x="1021.5" y="359" class="yl">157</text><text x="1021.5" y="343" class="yl">158</text><text x="1021.5" y="328" class="yl">159</text><text x="1021.5" y="312" class="yl">160</text><text x="1021.5" y="296" class="yl">161</text><text x="1021.5" y="281" class="yl">162</text><text x="1021.5" y="265" class="yl">163</text><text x="1021.5" y="250" class="yl">164</text><text x="1021.5" y="235" class="yl">165</text><text x="1021.5" y="219" class="yl">166</text><text x="1021.5" y="204" class="yl">167</text><text x="1021.5" y="189" class="yl">168</text><text x="1021.5" y="174" class="yl">169</text><text x="1021.5" y="160" class="yl">170</text><text x="1021.5" y="145" class="yl">171</text><text x="1021.5" y="130" class="yl">172</text><text x="1021.5" y="116" class="yl">173</text><text x="1021.5" y="101" class="yl">174</text><text x="1021.5" y="87" class="yl">175</text><text x="1021.5" y="73" class="yl">176</text><text x="1021.5" y="58" class="yl">177</text><text x="1021.5" y="44" class="yl">178</text><text x="1021.5" y="30" class="yl">179</text><text x="1021.5" y="17" class="yl">180</text></g>
<g filter="url(#crisp3)"><text x="76.00" y="605" class="ml" letter-spacing="0.133">July</text><text x="157.40" y="605" class="ml" letter-spacing="0.020">August</text><text x="249.25" y="605" class="ml" letter-spacing="0.688">September</text><text x="334.25" y="605" class="ml" letter-spacing="0.708">October</text><text x="416.75" y="605" class="ml" letter-spacing="1.000">November</text><text x="501.75" y="605" class="ml" letter-spacing="0.964">December</text><text x="587.75" y="605" class="ml" letter-spacing="0.333">2017</text><text x="667.90" y="605" class="ml" letter-spacing="0.686">February</text><text x="743.40" y="605" class="ml" letter-spacing="0.975">March</text><text x="838.25" y="605" class="ml" letter-spacing="0.262">April</text><text x="913.80" y="605" class="ml" letter-spacing="1.450">May</text><text x="-12.5" y="605" class="ml" letter-spacing="0.7">June</text></g>
</svg>
</body></html>
